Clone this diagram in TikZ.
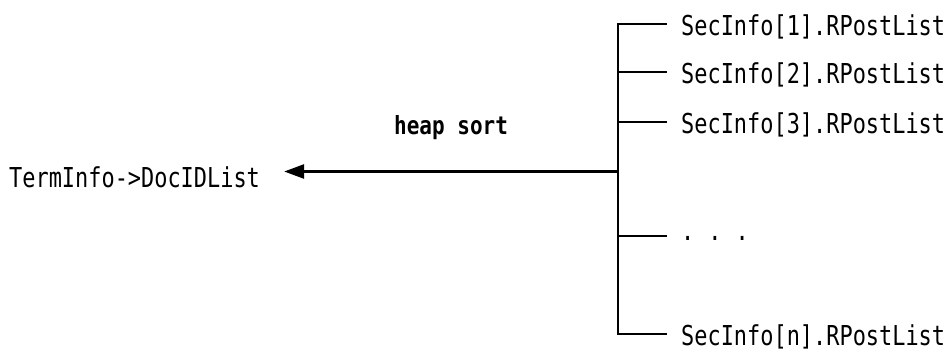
\documentclass[tikz,border=0pt]{standalone}
\usepackage{fontspec}
\setmonofont{DejaVu Sans Mono}
\newfontfamily\lblfont[FakeStretch=0.8]{DejaVu Sans Mono}
\newfontfamily\lblbold[FakeStretch=0.84]{DejaVu Sans Mono Bold}
\usetikzlibrary{arrows.meta}
\tikzset{
  lbl/.style={font=\lblfont\fontsize{27.4}{30}\selectfont, inner sep=0pt, anchor=base west},
  wire/.style={line width=2.6pt, line cap=rect},
}
\begin{document}
\begin{tikzpicture}[x=1pt,y=-1pt]
\useasboundingbox (0,0) rectangle (952,354);
\node[lbl] (s1) at (681,35.5) {SecInfo[1].RPostList};
\node[lbl] (s2) at (681,83.5) {SecInfo[2].RPostList};
\node[lbl] (s3) at (681,133.5) {SecInfo[3].RPostList};
\node[lbl] (sd) at (681,240) {.\hspace{14pt}.\hspace{14pt}.};
\node[lbl] (sn) at (681,345) {SecInfo[n].RPostList};
\node[lbl] (tl) at (9,187) {TermInfo->DocIDList};
\node[lbl, font=\lblbold\fontsize{25}{28}\selectfont] (hs) at (394,134.3) {heap sort};
\coordinate (top) at (618,24);
\coordinate (bot) at (618,334);
\coordinate (mid) at (618,171.5);
\coordinate (b1) at (666,24);
\coordinate (b2) at (666,72);
\coordinate (b3) at (666,122);
\coordinate (bd) at (666,236);
\coordinate (bn) at (666,334);
\draw[wire] (top) -- (bot);
\foreach \b in {b1,b2,b3,bd,bn}{
  \draw[wire] (\b) -- (\b -| top);
}
\draw[wire, -{Triangle[length=20pt,width=14pt]}, shorten >=24pt] (mid) -- (mid -| tl.east);
\end{tikzpicture}
\end{document}
